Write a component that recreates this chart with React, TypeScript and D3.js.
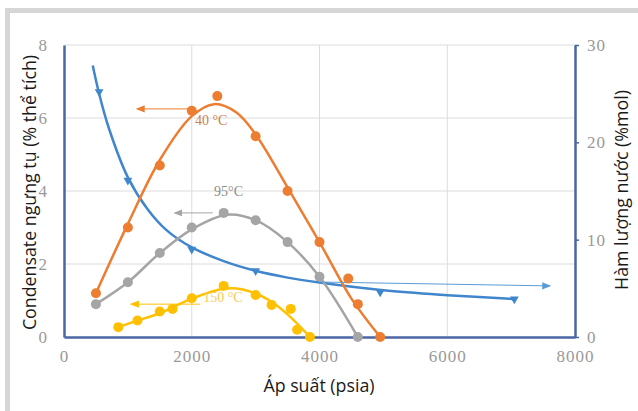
import React, { useEffect, useRef } from "react";
import * as d3 from "d3";

// pressure (psia) ticks and value ticks
const xTicks = [0, 2000, 4000, 6000, 8000];
const leftTicks = [0, 2, 4, 6, 8];
const rightTicks = [0, 10, 20, 30];

// measured points, condensate (% vol) vs pressure
const pts40 = [
  [500, 1.2], [1000, 3.0], [1500, 4.7], [2000, 6.2], [2400, 6.6], [3000, 5.5],
  [3500, 4.0], [4000, 2.6], [4450, 1.6], [4600, 0.9], [4950, 0],
];
const pts95 = [
  [500, 0.9], [1000, 1.5], [1500, 2.3], [2000, 3.0], [2500, 3.4], [3000, 3.2],
  [3500, 2.6], [4000, 1.65], [4600, 0],
];
const pts150 = [
  [850, 0.27], [1150, 0.45], [1500, 0.7], [1700, 0.77], [2000, 1.06], [2500, 1.4],
  [3000, 1.15], [3250, 0.88], [3550, 0.77], [3650, 0.2], [3850, 0],
];
// water content (% mol) points, right axis
const ptsWater = [
  [550, 25.2], [1000, 16.1], [2000, 9.0], [3000, 6.8], [4950, 4.6], [7050, 3.9],
];

// fitted curves
const fit40 = [
  [500, 1.2], [1000, 3.1], [1500, 4.85], [2000, 6.05], [2350, 6.38], [2700, 6.15],
  [3000, 5.55], [3500, 4.1], [4000, 2.6], [4500, 1.05], [4950, 0],
];
const fit95 = [
  [500, 0.9], [1000, 1.5], [1500, 2.3], [2000, 2.95], [2550, 3.35], [3000, 3.2],
  [3500, 2.6], [4000, 1.65], [4600, 0],
];
const fit150 = [
  [850, 0.27], [1150, 0.45], [1500, 0.65], [2000, 1.05], [2500, 1.32], [2800, 1.3],
  [3200, 1.02], [3500, 0.62], [3850, 0],
];
const fitWater = [
  [450, 27.9], [550, 25.0], [700, 21.5], [1000, 16.4], [1300, 13.2], [1600, 11.0],
  [2000, 9.2], [2500, 7.8], [3000, 6.8], [3500, 6.1], [4000, 5.6], [5000, 4.8],
  [6000, 4.3], [7050, 3.9],
];

// series labels with arrows pointing to their axis
const arrows = [
  { from: [2000, 6.25], to: [1150, 6.25], axis: "left", color: "#ed7d31" },
  { from: [2330, 3.4], to: [1740, 3.4], axis: "left", color: "#a5a5a5" },
  { from: [2130, 0.9], to: [1060, 0.9], axis: "left", color: "#ffc000" },
  { from: [4000, 5.65], to: [7600, 5.25], axis: "right", color: "#5b9bd5" },
];
const labels = [
  { text: "40 °C", at: [2050, 5.8], color: "#c9814f" },
  { text: "95°C", at: [2350, 3.85], color: "#8c8c8c" },
  { text: "150 °C", at: [2180, 0.95], color: "#f5cc55" },
];

export default function App() {
  const svgRef = useRef(null);

  useEffect(() => {
    draw();
  }, []);

  const draw = () => {
    const width = 638;
    const height = 411;
    const left = 64;
    const right = 575;
    const top = 45;
    const bottom = 337;

    const svg = d3.select(svgRef.current);
    svg.selectAll("*").remove();
    svg.attr("width", width).attr("height", height).attr("viewBox", [0, 0, width, height]);

    svg.append("rect").attr("width", width).attr("height", height).attr("fill", "white");
    // grey frame of the picture
    svg
      .append("rect")
      .attr("x", 7.5)
      .attr("y", 10.5)
      .attr("width", width + 20)
      .attr("height", height + 20)
      .attr("fill", "none")
      .attr("stroke", "#d6d6d6")
      .attr("stroke-width", 5);

    const x = d3.scaleLinear().domain([0, 8000]).range([left, right]);
    const yL = d3.scaleLinear().domain([0, 8]).range([bottom, top]);
    const yR = d3.scaleLinear().domain([0, 30]).range([bottom, top]);

    // grid
    const grid = svg.append("g").attr("stroke", "#dcdcdc").attr("stroke-width", 1);
    grid
      .selectAll("line.v")
      .data(xTicks.slice(1, -1))
      .join("line")
      .attr("x1", (d) => x(d))
      .attr("x2", (d) => x(d))
      .attr("y1", top)
      .attr("y2", bottom);
    grid
      .selectAll("line.h")
      .data(leftTicks.slice(1))
      .join("line")
      .attr("x1", left)
      .attr("x2", right)
      .attr("y1", (d) => yL(d))
      .attr("y2", (d) => yL(d));

    // axes
    const axisColor = "#4a66a4";
    const tickStyle = (g) =>
      g
        .selectAll(".tick text")
        .attr("font-family", "'Liberation Serif', serif")
        .attr("font-size", 17)
        .attr("letter-spacing", 1)
        .attr("fill", "#999999");
    svg
      .append("g")
      .attr("transform", `translate(0,${bottom})`)
      .call(d3.axisBottom(x).tickValues(xTicks).tickFormat(d3.format("d")).tickSize(0).tickPadding(13))
      .call((g) => {
        g.select(".domain").attr("stroke", axisColor).attr("stroke-width", 2.5);
        tickStyle(g);
      });
    svg
      .append("g")
      .attr("transform", `translate(${left},0)`)
      .call(d3.axisLeft(yL).tickValues(leftTicks).tickSize(0).tickPadding(16))
      .call((g) => {
        g.select(".domain").attr("stroke", axisColor).attr("stroke-width", 2.5);
        tickStyle(g);
      });
    svg
      .append("g")
      .attr("transform", `translate(${right},0)`)
      .call(d3.axisRight(yR).tickValues(rightTicks).tickSizeInner(4).tickSizeOuter(0).tickPadding(8))
      .call((g) => {
        g.select(".domain").attr("stroke", axisColor).attr("stroke-width", 2.5);
        g.selectAll(".tick line").attr("stroke", axisColor).attr("stroke-width", 1.5);
        tickStyle(g);
      });

    // axis titles
    const titleFont = "'Open Sans', 'Noto Sans', sans-serif";
    svg
      .append("text")
      .attr("transform", `translate(36,${(30 + 355) / 2}) rotate(-90)`)
      .attr("text-anchor", "middle")
      .attr("font-family", titleFont)
      .attr("font-size", 17.8)
      .attr("fill", "#1a1a1a")
      .text("Condensate ngưng tụ (% thể tích)");
    svg
      .append("text")
      .attr("transform", `translate(628,190) rotate(-90)`)
      .attr("text-anchor", "middle")
      .attr("font-family", titleFont)
      .attr("font-size", 17.8)
      .attr("fill", "#1a1a1a")
      .text("Hàm lượng nước (%mol)");
    svg
      .append("text")
      .attr("x", 319)
      .attr("y", 392)
      .attr("text-anchor", "middle")
      .attr("font-family", titleFont)
      .attr("font-size", 17.8)
      .attr("fill", "#1a1a1a")
      .text("Áp suất (psia)");

    // arrow heads
    const defs = svg.append("defs");
    arrows.forEach((a, i) => {
      defs
        .append("marker")
        .attr("id", `ah${i}`)
        .attr("viewBox", "0 0 10 10")
        .attr("refX", 8)
        .attr("refY", 5)
        .attr("markerWidth", 9)
        .attr("markerHeight", 9)
        .attr("markerUnits", "userSpaceOnUse")
        .attr("orient", "auto")
        .append("path")
        .attr("d", "M0,1L10,5L0,9Z")
        .attr("fill", a.color);
    });

    const lineL = d3
      .line()
      .x((d) => x(d[0]))
      .y((d) => yL(d[1]))
      .curve(d3.curveCatmullRom.alpha(0.5));
    const lineR = d3
      .line()
      .x((d) => x(d[0]))
      .y((d) => yR(d[1]))
      .curve(d3.curveCatmullRom.alpha(0.5));

    const curves = [
      { data: fitWater, line: lineR, color: "#3f86cc" },
      { data: fit40, line: lineL, color: "#ed7d31" },
      { data: fit95, line: lineL, color: "#a5a5a5" },
      { data: fit150, line: lineL, color: "#ffc000" },
    ];
    svg
      .append("g")
      .attr("fill", "none")
      .attr("stroke-width", 2.5)
      .selectAll("path")
      .data(curves)
      .join("path")
      .attr("stroke", (d) => d.color)
      .attr("d", (d) => d.line(d.data));

    // arrows
    svg
      .append("g")
      .selectAll("line")
      .data(arrows)
      .join("line")
      .attr("x1", (d) => x(d.from[0]))
      .attr("y1", (d) => (d.axis === "left" ? yL(d.from[1]) : yR(d.from[1])))
      .attr("x2", (d) => x(d.to[0]))
      .attr("y2", (d) => (d.axis === "left" ? yL(d.to[1]) : yR(d.to[1])))
      .attr("stroke", (d) => d.color)
      .attr("stroke-width", 1)
      .attr("marker-end", (d, i) => `url(#ah${i})`);

    // point markers
    const dots = [
      { data: pts40, color: "#ed7d31" },
      { data: pts95, color: "#a5a5a5" },
      { data: pts150, color: "#ffc000" },
    ];
    dots.forEach((s) => {
      svg
        .append("g")
        .selectAll("circle")
        .data(s.data)
        .join("circle")
        .attr("cx", (d) => x(d[0]))
        .attr("cy", (d) => yL(d[1]))
        .attr("r", 5)
        .attr("fill", s.color);
    });
    svg
      .append("g")
      .selectAll("path")
      .data(ptsWater)
      .join("path")
      .attr("transform", (d) => `translate(${x(d[0])},${yR(d[1])}) rotate(-60)`)
      .attr("d", d3.symbol(d3.symbolTriangle, 34))
      .attr("fill", "#3f86cc");

    // series labels
    svg
      .append("g")
      .selectAll("text")
      .data(labels)
      .join("text")
      .attr("x", (d) => x(d.at[0]))
      .attr("y", (d) => yL(d.at[1]))
      .attr("font-family", "'Liberation Serif', serif")
      .attr("font-size", 14)
      .attr("fill", (d) => d.color)
      .text((d) => d.text);
  };

  return (
    <svg
      ref={svgRef}
      style={{ position: "absolute", left: 0, top: 0, display: "block" }}
    ></svg>
  );
}
